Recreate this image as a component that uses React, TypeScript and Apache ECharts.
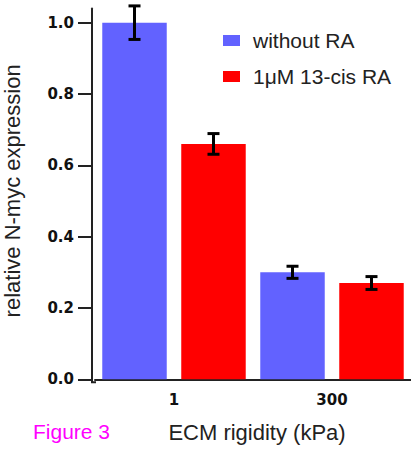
import React, { useEffect, useRef } from "react";
import * as echarts from "echarts";

const categories = ["1", "300"];
const seriesNames = ["without RA", "1μM 13-cis RA"];
const withoutRA = [1.0, 0.3];
const withoutRAErr = [0.047, 0.017];
const cisRA = [0.66, 0.27];
const cisRAErr = [0.029, 0.018];
const yTicks = [0, 0.2, 0.4, 0.6, 0.8, 1.0];

const BLUE = "#6262ff";
const RED = "#ff0000";
const BAR_GAP = 0.225;
const CAT_GAP = 0.092;
const SANS = '"Liberation Sans", Arial, Helvetica, sans-serif';
const BOLD_FONT = '"DejaVu Sans", Verdana, sans-serif';

function errorSeries(name: string, idx: number, means: number[], errs: number[]) {
  return {
    type: "custom",
    name,
    z: 10,
    clip: false,
    data: means.map((m, i) => [i, m, errs[i]]),
    encode: { x: 0, y: 1 },
    renderItem: (params: any, api: any) => {
      const cat = api.value(0);
      const mean = api.value(1);
      const err = api.value(2);
      const band = api.size([1, 0])[0];
      const gapPx = band * CAT_GAP;
      const bw = (band - gapPx) / (2 + BAR_GAP);
      const off = -band / 2 + gapPx / 2 + bw / 2 + idx * bw * (1 + BAR_GAP);
      const top = api.coord([cat, mean + err]);
      const bot = api.coord([cat, mean - err]);
      const x = top[0] + off;
      const cap = 6;
      const st = { stroke: "#000", lineWidth: 3 };
      return {
        type: "group",
        children: [
          { type: "line", shape: { x1: x, y1: top[1], x2: x, y2: bot[1] }, style: st },
          { type: "line", shape: { x1: x - cap, y1: top[1], x2: x + cap, y2: top[1] }, style: st },
          { type: "line", shape: { x1: x - cap, y1: bot[1], x2: x + cap, y2: bot[1] }, style: st },
        ],
      };
    },
  };
}

export default function App() {
  const ref = useRef<HTMLDivElement>(null);
  useEffect(() => {
    if (!ref.current) return;
    const chart = echarts.init(ref.current, null, { renderer: "svg" });
    const option: any = {
      animation: false,
      backgroundColor: "#fff",
      grid: {
        left: 95,
        right: 0,
        top: 8.4,
        bottom: 70.7,
        containLabel: false,
        outerBoundsMode: "none",
      },
      legend: {
        data: seriesNames,
        orient: "vertical",
        left: 218,
        top: 25,
        itemWidth: 17,
        itemHeight: 11,
        itemGap: 15,
        icon: "rect",
        textStyle: { fontSize: 21, fontFamily: SANS, color: "#222", padding: [0, 0, 0, 8] },
      },
      xAxis: {
        type: "category",
        data: categories,
        offset: 3,
        axisLine: { lineStyle: { color: "#222", width: 2 } },
        axisTick: { length: 12, lineStyle: { color: "#222", width: 2 } },
        axisLabel: {
          margin: 10,
          fontSize: 15,
          fontWeight: "bold",
          fontFamily: BOLD_FONT,
          color: "#111",
        },
        name: "ECM rigidity (kPa)",
        nameLocation: "middle",
        nameGap: 39,
        nameTextStyle: { fontSize: 22, fontFamily: SANS, color: "#222", padding: [0, 0, 0, 8] },
      },
      yAxis: {
        type: "value",
        min: 0,
        max: 1.04,
        offset: 3,
        splitLine: { show: false },
        axisLine: { show: true, lineStyle: { color: "#222", width: 2 } },
        axisTick: { show: true, length: 14, customValues: yTicks, lineStyle: { color: "#222", width: 2 } },
        axisLabel: {
          customValues: yTicks,
          margin: 18,
          fontSize: 15,
          fontWeight: "bold",
          fontFamily: BOLD_FONT,
          color: "#111",
          formatter: (v: number) => v.toFixed(1),
        },
        name: "relative N-myc expression",
        nameLocation: "middle",
        nameRotate: 90,
        nameGap: 69,
        nameTextStyle: { fontSize: 22, fontFamily: SANS, color: "#222", padding: [0, 0, 0, 6] },
      },
      graphic: [
        {
          type: "text",
          left: 33,
          top: 421,
          style: { text: "Figure 3", fill: "#ff00ff", fontSize: 21, fontFamily: SANS },
        },
        {
          type: "polyline",
          shape: { points: [[92, 378], [92, 382.3], [96, 382.3]] },
          style: { stroke: "#222", lineWidth: 2, fill: null },
        },
      ],
      series: [
        {
          type: "bar",
          name: seriesNames[0],
          data: withoutRA,
          itemStyle: { color: BLUE },
          barGap: "22.5%",
          barCategoryGap: "9.2%",
        },
        {
          type: "bar",
          name: seriesNames[1],
          data: cisRA,
          itemStyle: { color: RED },
          barGap: "22.5%",
          barCategoryGap: "9.2%",
        },
        errorSeries("err0", 0, withoutRA, withoutRAErr),
        errorSeries("err1", 1, cisRA, cisRAErr),
      ],
    };
    chart.setOption(option);
    return () => chart.dispose();
  }, []);
  return (
    <div
      ref={ref}
      style={{ position: "fixed", left: 0, top: 0, width: 411, height: 450, background: "#fff" }}
    />
  );
}
